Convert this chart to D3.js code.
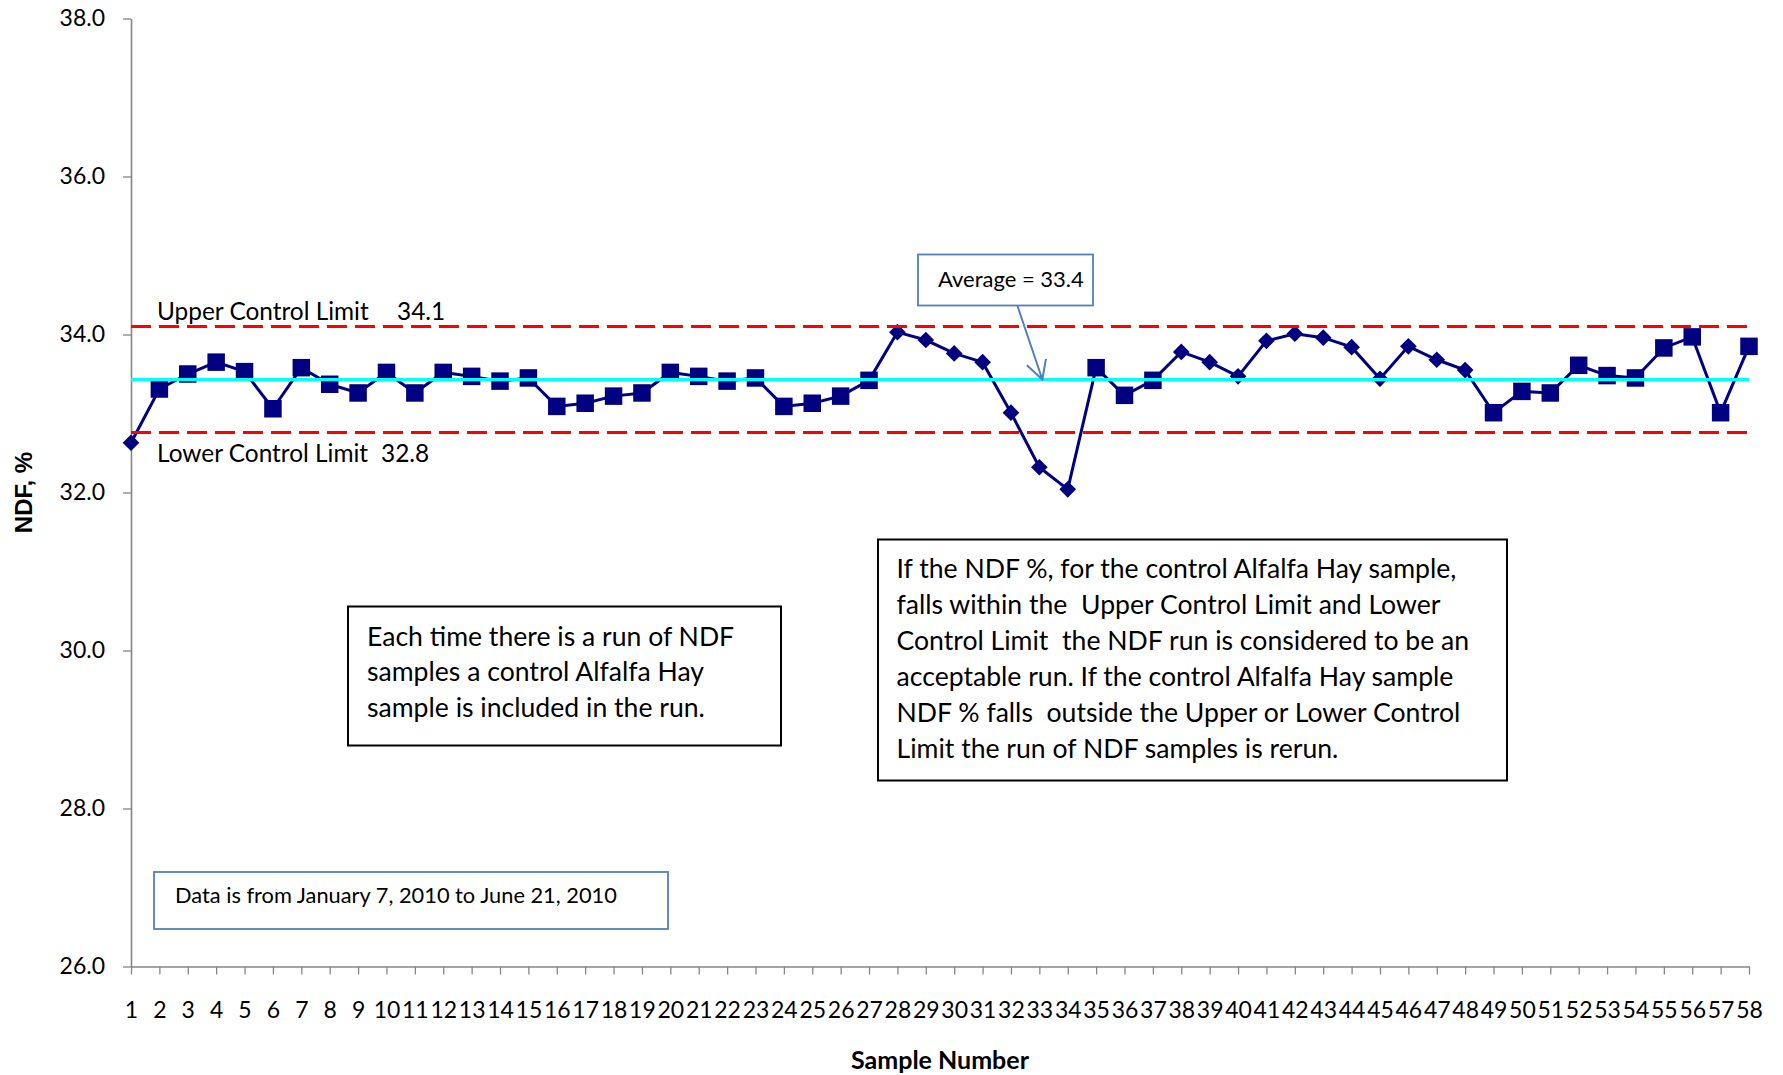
<!DOCTYPE html>
<html>
<head>
<meta charset="utf-8">
<script src="https://cdn.jsdelivr.net/npm/d3@7"></script>
<style>
  body { margin: 0; background: #fff; }
  svg { display: block; }
</style>
</head>
<body>
<div id="chart"></div>
<script>
// sample numbers on the x axis
var samples = [1, 2, 3, 4, 5, 6, 7, 8, 9, 10, 11, 12, 13, 14, 15, 16, 17, 18, 19, 20,
    21, 22, 23, 24, 25, 26, 27, 28, 29, 30, 31, 32, 33, 34, 35, 36, 37, 38, 39, 40,
    41, 42, 43, 44, 45, 46, 47, 48, 49, 50, 51, 52, 53, 54, 55, 56, 57, 58];

// NDF % of the control Alfalfa Hay sample, one per run
var ndf = [32.63, 33.31, 33.50, 33.65, 33.53, 33.06, 33.58, 33.37, 33.26, 33.52,
    33.26, 33.52, 33.47, 33.41, 33.45, 33.09, 33.13, 33.22, 33.26, 33.52,
    33.47, 33.41, 33.45, 33.09, 33.13, 33.22, 33.42, 34.03, 33.93, 33.76,
    33.65, 33.01, 32.32, 32.04, 33.58, 33.23, 33.42, 33.78, 33.65, 33.47,
    33.92, 34.01, 33.96, 33.84, 33.44, 33.85, 33.68, 33.55, 33.01, 33.28,
    33.26, 33.61, 33.48, 33.45, 33.83, 33.97, 33.01, 33.85];

// marker used on each point: D = diamond, S = square
var markers = ["D", "S", "S", "S", "S", "S", "S", "S", "S", "S",
    "S", "S", "S", "S", "S", "S", "S", "S", "S", "S",
    "S", "S", "S", "S", "S", "S", "S", "D", "D", "D",
    "D", "D", "D", "D", "S", "S", "S", "D", "D", "D",
    "D", "D", "D", "D", "D", "D", "D", "D", "S", "S",
    "S", "S", "S", "S", "S", "S", "S", "S"];

var yTicks = [26, 28, 30, 32, 34, 36, 38];

var upperLimit = 34.1;
var lowerLimit = 32.76;
var average = 33.43;

var upperLabel = ["Upper Control Limit", "34.1"];
var lowerLabel = ["Lower Control Limit", "32.8"];
var averageLabel = "Average = 33.4";

var noteRun = ["Each time there is a run of NDF",
    "samples a control Alfalfa Hay",
    "sample is included in the run."];
var noteRule = ["If the NDF %, for the control Alfalfa Hay sample,",
    "falls within the  Upper Control Limit and Lower",
    "Control Limit  the NDF run is considered to be an",
    "acceptable run. If the control Alfalfa Hay sample",
    "NDF % falls  outside the Upper or Lower Control",
    "Limit the run of NDF samples is rerun."];
var noteDates = "Data is from January 7, 2010 to June 21, 2010";

function drawChart() {
    var FONT = "Lato, 'Open Sans', sans-serif";
    var width = 1783, height = 1075;
    var plotLeft = 131, plotRight = 1749, plotTop = 18.5, plotBottom = 966.5;

    var svg = d3.select("#chart").append("svg")
        .attr("width", width)
        .attr("height", height)
        .style("font-family", FONT);

    var x = d3.scalePoint().domain(samples).range([plotLeft, plotRight]);
    var y = d3.scaleLinear().domain([26, 38]).range([plotBottom, plotTop]);

    // axes
    var yAxis = svg.append("g")
        .attr("transform", "translate(" + plotLeft + ",0)")
        .call(d3.axisLeft(y).tickValues(yTicks).tickFormat(d3.format(".1f"))
            .tickSize(8).tickSizeOuter(0).tickPadding(18));

    var xAxis = svg.append("g")
        .attr("transform", "translate(0," + plotBottom + ")")
        .call(d3.axisBottom(x).tickSize(8).tickSizeOuter(0).tickPadding(27));

    [xAxis, yAxis].forEach(function (g) {
        g.select(".domain").attr("stroke", "#868686").attr("stroke-width", 1.6);
        g.selectAll(".tick line").attr("stroke", "#868686").attr("stroke-width", 1.3);
        g.selectAll(".tick text")
            .attr("fill", "#000")
            .style("font-family", FONT)
            .style("font-size", "23px");
    });

    svg.append("text")
        .attr("transform", "translate(32," + (plotTop + plotBottom) / 2 + ") rotate(-90)")
        .attr("text-anchor", "middle")
        .style("font-family", "'Liberation Sans', Arial, sans-serif")
        .style("font-weight", "bold")
        .style("font-size", "24px")
        .text("NDF, %");

    svg.append("text")
        .attr("x", (plotLeft + plotRight) / 2)
        .attr("y", 1069)
        .attr("text-anchor", "middle")
        .style("font-weight", "bold")
        .style("font-size", "25px")
        .text("Sample Number");

    // data series
    var line = d3.line()
        .x(function (d, i) { return x(samples[i]); })
        .y(function (d) { return y(d); });

    svg.append("path")
        .datum(ndf)
        .attr("d", line)
        .attr("fill", "none")
        .attr("stroke", "#000080")
        .attr("stroke-width", 3);

    var square = d3.symbol().type(d3.symbolSquare).size(17.5 * 17.5);
    var diamond = d3.symbol().type(d3.symbolSquare).size(11.8 * 11.8);

    svg.append("g").selectAll("path")
        .data(ndf)
        .enter()
        .append("path")
        .attr("d", function (d, i) { return markers[i] === "S" ? square() : diamond(); })
        .attr("transform", function (d, i) {
            var t = "translate(" + x(samples[i]) + "," + y(d) + ")";
            return markers[i] === "S" ? t : t + " rotate(45)";
        })
        .attr("fill", "#000080");

    // control limits and average
    function hLine(v, color, dash, w) {
        svg.append("line")
            .attr("x1", plotLeft).attr("x2", plotRight)
            .attr("y1", y(v)).attr("y2", y(v))
            .attr("stroke", color)
            .attr("stroke-width", w)
            .attr("stroke-dasharray", dash);
    }
    hLine(upperLimit, "#FF0000", "20,8", 3);
    hLine(lowerLimit, "#FF0000", "20,8", 3);
    hLine(average, "#00FFFF", null, 3.2);

    function label(parts, xs, yy) {
        parts.forEach(function (p, i) {
            svg.append("text")
                .attr("x", xs[i]).attr("y", yy)
                .style("font-size", "24.4px")
                .text(p);
        });
    }
    label(upperLabel, [157, 397], y(upperLimit) - 7);
    label(lowerLabel, [157, 381], y(lowerLimit) + 30);

    // text boxes
    function box(x0, y0, w, h, stroke, sw) {
        svg.append("rect")
            .attr("x", x0).attr("y", y0)
            .attr("width", w).attr("height", h)
            .attr("fill", "#fff")
            .attr("stroke", stroke)
            .attr("stroke-width", sw);
    }
    function lines(arr, x0, y0, step, size) {
        svg.append("g").selectAll("text")
            .data(arr)
            .enter()
            .append("text")
            .attr("x", x0)
            .attr("y", function (d, i) { return y0 + i * step; })
            .style("font-size", size + "px")
            .style("white-space", "pre")
            .text(function (d) { return d; });
    }

    // average callout with arrow
    box(918, 254.5, 175, 51, "#4F81BD", 1.8);
    lines([averageLabel], 938, 287, 0, 22);

    var tip = [x(33) + 3, y(average)];
    var start = [1017.5, 306];
    var ang = Math.atan2(start[1] - tip[1], start[0] - tip[0]);
    var arm = 21, spread = 0.5;
    svg.append("path")
        .attr("d", "M" + start + "L" + tip +
            "M" + [tip[0] + arm * Math.cos(ang - spread), tip[1] + arm * Math.sin(ang - spread)] +
            "L" + tip +
            "L" + [tip[0] + arm * Math.cos(ang + spread), tip[1] + arm * Math.sin(ang + spread)])
        .attr("fill", "none")
        .attr("stroke", "#4F81BD")
        .attr("stroke-width", 2);

    box(348, 606.5, 433, 139, "#000", 2);
    lines(noteRun, 367, 645.5, 35.5, 26.6);

    box(878, 539.5, 629, 241, "#000", 2);
    lines(noteRule, 896.5, 577.5, 36.1, 26.6);

    box(154, 872, 514, 57, "#4F81BD", 1.8);
    lines([noteDates], 175, 903, 0, 21.8);
}

drawChart();
</script>
</body>
</html>
